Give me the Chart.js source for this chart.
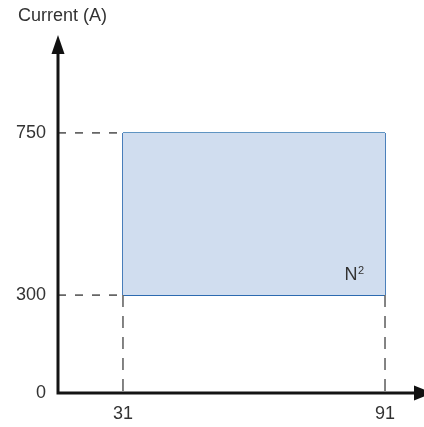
<!DOCTYPE html>
<html>
<head>
<meta charset="utf-8">
<script src="https://cdn.jsdelivr.net/npm/chart.js@4/dist/chart.umd.min.js"></script>
<style>
  html, body { margin: 0; padding: 0; background: #ffffff; }
  #wrap { width: 424px; height: 427px; position: relative; }
</style>
</head>
<body>
<div id="wrap"><canvas id="c"></canvas></div>
<script>
// ---- data ----
const axisTitle = 'Current (A)';
const xTicks = [31, 91];
const yTicks = [0, 300, 750];
const regionX = [31, 91];       // x range of the N² region
const regionY = [300, 750];     // current range (A) of the N² region
const regionLabel = 'N';
const regionLabelSup = '2';

// ---- piecewise (schematic) scale ----
class BreakScale extends Chart.LinearScale {
  static id = 'breaks';
  static defaults = { ticks: { callback: (v) => String(v) } };
  buildTicks() {
    return (this.options.tickValues || []).map(v => ({ value: v }));
  }
  _toDecimal(v) {
    const s = this.options.stops;
    if (v <= s[0][0]) return s[0][1];
    for (let i = 1; i < s.length; i++) {
      if (v <= s[i][0]) {
        const [v0, d0] = s[i - 1], [v1, d1] = s[i];
        return d0 + (v - v0) / (v1 - v0) * (d1 - d0);
      }
    }
    return s[s.length - 1][1];
  }
  getPixelForValue(v) {
    if (v === null || v === undefined || isNaN(v)) return NaN;
    return this.getPixelForDecimal(this._toDecimal(v));
  }
  getValueForPixel(p) {
    const d = this.getDecimalForPixel(p);
    const s = this.options.stops;
    for (let i = 1; i < s.length; i++) {
      if (d <= s[i][1]) {
        const [v0, d0] = s[i - 1], [v1, d1] = s[i];
        return v0 + (d - d0) / (d1 - d0) * (v1 - v0);
      }
    }
    return s[s.length - 1][0];
  }
}
Chart.register(BreakScale);

const FONT = '"Liberation Sans", Arial, Helvetica, sans-serif';
const TEXT = '#333333';
const DASH = '#666666';

const rectPoly = [
  { x: regionX[0], y: regionY[0] }, { x: regionX[0], y: regionY[1] },
  { x: regionX[1], y: regionY[1] }, { x: regionX[1], y: regionY[0] },
  { x: regionX[0], y: regionY[0] }
];

function seg(a, b, color, width, dash) {
  return { data: [a, b], showLine: true, borderColor: color, borderWidth: width,
           borderDash: dash || [], pointRadius: 0, fill: false };
}

const datasets = [
  // dashed guides
  seg({ x: 0, y: regionY[1] }, { x: regionX[0], y: regionY[1] }, DASH, 1.6, [8, 9]),
  seg({ x: 0, y: regionY[0] }, { x: regionX[0], y: regionY[0] }, DASH, 1.6, [8, 9]),
  seg({ x: regionX[0], y: regionY[0] }, { x: regionX[0], y: 0 }, DASH, 1.6, [12, 9]),
  seg({ x: regionX[1], y: regionY[0] }, { x: regionX[1], y: 0 }, DASH, 1.6, [12, 9]),
  // region fill
  { data: rectPoly, showLine: true, borderWidth: 0, borderColor: 'rgba(0,0,0,0)',
    backgroundColor: '#d0ddef', fill: 'shape', pointRadius: 0 },
  // region borders
  seg({ x: regionX[0], y: regionY[1] }, { x: regionX[1], y: regionY[1] }, '#5f94c2', 2),
  seg({ x: regionX[0], y: regionY[0] }, { x: regionX[1], y: regionY[0] }, '#2c6ab0', 1.6),
  seg({ x: regionX[0], y: regionY[0] }, { x: regionX[0], y: regionY[1] }, '#1e60aa', 1.6),
  seg({ x: regionX[1], y: regionY[0] }, { x: regionX[1], y: regionY[1] }, '#1e60aa', 1.6)
];

const decorations = {
  id: 'decorations',
  afterDraw(chart) {
    const ctx = chart.ctx, a = chart.chartArea;
    const xs = chart.scales.x, ys = chart.scales.y;
    const x0 = xs.getPixelForValue(0), y0 = ys.getPixelForValue(0);
    ctx.save();
    // axis lines
    ctx.strokeStyle = '#141414';
    ctx.lineWidth = 3;
    ctx.beginPath();
    ctx.moveTo(x0, y0 + 1.5); ctx.lineTo(x0, a.top);
    ctx.moveTo(x0 - 1.5, y0); ctx.lineTo(a.right, y0);
    ctx.stroke();
    // arrowheads
    ctx.fillStyle = '#111111';
    ctx.beginPath();
    ctx.moveTo(x0, a.top - 18); ctx.lineTo(x0 - 6.5, a.top + 1); ctx.lineTo(x0 + 6.5, a.top + 1);
    ctx.closePath(); ctx.fill();
    ctx.beginPath();
    ctx.moveTo(a.right + 18, y0); ctx.lineTo(a.right - 1, y0 - 7.5); ctx.lineTo(a.right - 1, y0 + 7.5);
    ctx.closePath(); ctx.fill();
    // axis title
    ctx.fillStyle = TEXT;
    ctx.font = '18px ' + FONT;
    ctx.textAlign = 'left';
    ctx.textBaseline = 'alphabetic';
    ctx.fillText(axisTitle, 18, 21);
    // region label N²
    const xr = xs.getPixelForValue(regionX[1]) - 21;
    const yb = ys.getPixelForValue(regionY[0]) - 15;
    ctx.font = '11px ' + FONT;
    ctx.textAlign = 'right';
    const supW = ctx.measureText(regionLabelSup).width;
    ctx.fillText(regionLabelSup, xr, yb - 6);
    ctx.font = '18px ' + FONT;
    ctx.fillText(regionLabel, xr - supW - 0.5, yb);
    ctx.restore();
  }
};

new Chart(document.getElementById('c'), {
  type: 'scatter',
  data: { datasets },
  options: {
    responsive: true,
    maintainAspectRatio: false,
    animation: false,
    layout: { padding: { top: 53, right: 9, left: 0, bottom: 0 } },
    plugins: { legend: { display: false }, tooltip: { enabled: false }, title: { display: false } },
    scales: {
      x: {
        type: 'breaks', min: 0, max: 100,
        stops: [[0, 0], [31, 0.182], [91, 0.916], [100, 1]],
        tickValues: xTicks,
        grid: { display: false, drawTicks: false },
        border: { display: false },
        ticks: { padding: 10, color: TEXT, font: { family: FONT, size: 18 }, maxRotation: 0, autoSkip: false },
        afterFit(s) { s.height = 34; }
      },
      y: {
        type: 'breaks', min: 0, max: 1000,
        stops: [[0, 0], [300, 0.288], [750, 0.765], [1000, 1]],
        tickValues: yTicks,
        grid: { display: false, drawTicks: false },
        border: { display: false },
        ticks: { padding: 12, color: TEXT, font: { family: FONT, size: 18 }, autoSkip: false },
        afterFit(s) { s.width = 58; }
      }
    }
  },
  plugins: [decorations]
});
</script>
</body>
</html>
